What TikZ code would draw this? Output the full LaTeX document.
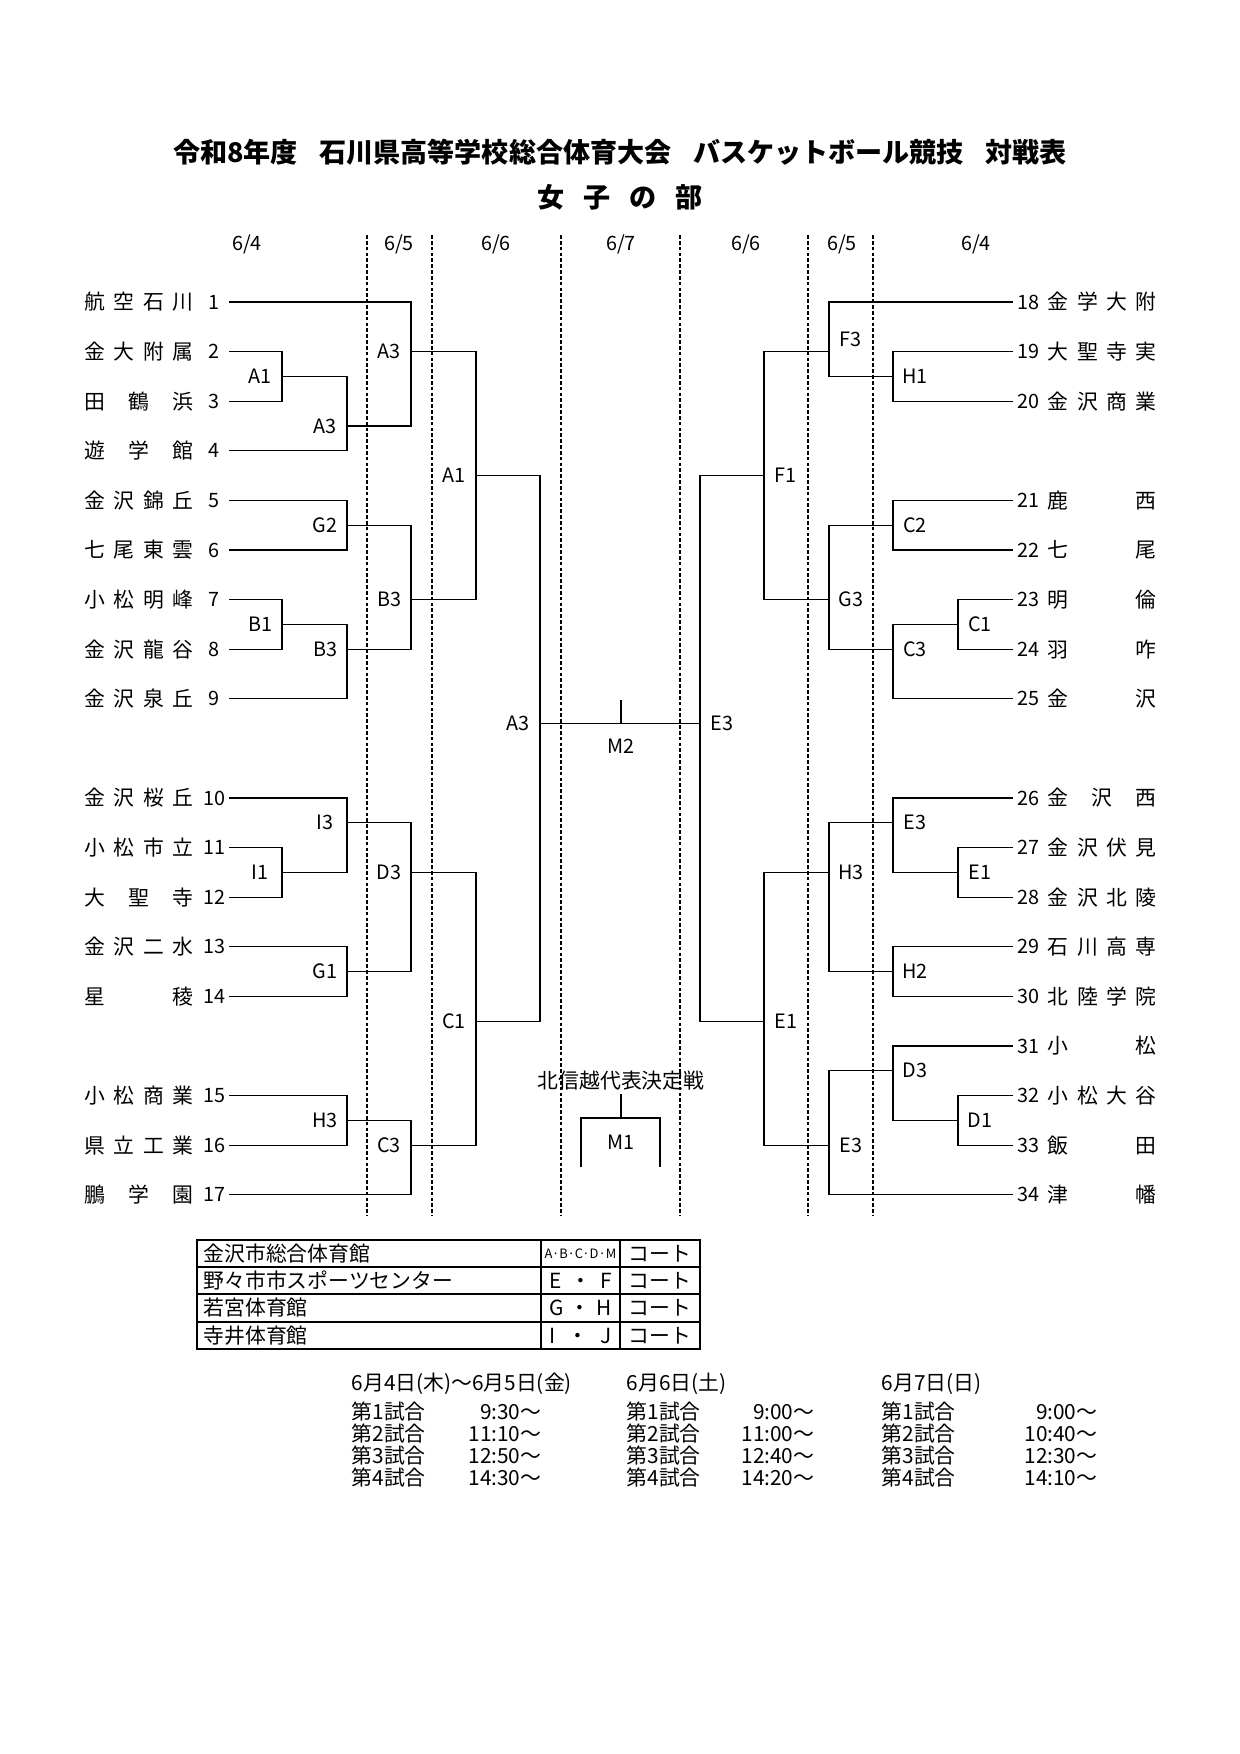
\documentclass[tikz,border=0pt]{standalone}
\usepackage{fontspec}
\setmainfont{Noto Sans CJK JP}
\usetikzlibrary{positioning}

% y of a bracket row (full-size pixel grid)
\newcommand{\rowy}[1]{302+49.6*#1}

\begin{document}
\begin{tikzpicture}[
  x=0.48pt, y=-0.48pt,
  line width=0.6pt,
  team/.style={inner sep=0pt, font=\fontsize{10}{12}\selectfont},
  num/.style={inner sep=0pt, minimum width=14pt, font=\fontsize{9.5}{11}\selectfont},
  lbl/.style={inner sep=0pt, font=\fontsize{9.5}{11}\selectfont},
  ml/.style={label={[lbl, xshift=-10.5pt]center:#1}},
  mr/.style={label={[lbl, xshift=10.5pt]center:#1}},
  day/.style={inner sep=0pt, font=\fontsize{9.5}{11}\selectfont},
  dayline/.style={line width=0.5pt, dash pattern=on 1.8pt off 1pt},
  cell/.style={inner sep=0pt, font=\fontsize{10}{12}\selectfont},
  sched/.style={inner sep=0pt, font=\fontsize{10}{12}\selectfont}
]
\useasboundingbox (0,0) rectangle (1240,1754);

% title
\node[font=\fontsize{13}{15}\selectfont\bfseries] (title) at (620,152)
  {令和8年度\hspace{0.8em}石川県高等学校総合体育大会\hspace{0.8em}バスケットボール競技\hspace{0.8em}対戦表};
\node[font=\fontsize{13}{15}\selectfont\bfseries] (part) at (620,197)
  {\makebox[79pt][s]{女 子 の 部}};

% day columns
\foreach \x/\d [count=\i] in {247/6\slash4, 399/6\slash5, 496/6\slash6, 621/6\slash7,
                              746/6\slash6, 842/6\slash5, 976/6\slash4}
  \node[day] (day\i) at (\x,244) {\d};
\foreach \x in {367,432,561,680,808,873}
  \draw[dayline] (\x,235) -- (\x,1216);

% teams, left
\foreach \n/\sl/\nm in {1/0/航 空 石 川, 2/1/金 大 附 属, 3/2/田 鶴 浜, 4/3/遊 学 館,
    5/4/金 沢 錦 丘, 6/5/七 尾 東 雲, 7/6/小 松 明 峰, 8/7/金 沢 龍 谷, 9/8/金 沢 泉 丘,
    10/10/金 沢 桜 丘, 11/11/小 松 市 立, 12/12/大 聖 寺, 13/13/金 沢 二 水, 14/14/星 稜,
    15/16/小 松 商 業, 16/17/県 立 工 業, 17/18/鵬 学 園}
{
  \node[team, anchor=west] (n\n) at (84,{\rowy{\sl}}) {\makebox[52.3pt][s]{\nm}};
  \node[num] (k\n) at (214,{\rowy{\sl}}) {\n};
}
% teams, right
\foreach \n/\sl/\nm in {18/0/金 学 大 附, 19/1/大 聖 寺 実, 20/2/金 沢 商 業,
    21/4/鹿 西, 22/5/七 尾, 23/6/明 倫, 24/7/羽 咋, 25/8/金 沢,
    26/10/金 沢 西, 27/11/金 沢 伏 見, 28/12/金 沢 北 陵, 29/13/石 川 高 専, 30/14/北 陸 学 院,
    31/15/小 松, 32/16/小 松 大 谷, 33/17/飯 田, 34/18/津 幡}
{
  \node[team, anchor=west] (n\n) at (1047,{\rowy{\sl}}) {\makebox[52.3pt][s]{\nm}};
  \node[num] (k\n) at (1028,{\rowy{\sl}}) {\n};
}

% matches, left half
\coordinate[ml=A1] (lA1)  at (282,{\rowy{1.5}});
\coordinate[ml=A3] (lA3b) at (347,{\rowy{2.5}});
\coordinate[ml=A3] (lA3a) at (411,{\rowy{1}});
\coordinate[ml=G2] (lG2)  at (347,{\rowy{4.5}});
\coordinate[ml=B1] (lB1)  at (282,{\rowy{6.5}});
\coordinate[ml=B3] (lB3b) at (347,{\rowy{7}});
\coordinate[ml=B3] (lB3a) at (411,{\rowy{6}});
\coordinate[ml=A1] (lA1s) at (476,{\rowy{3.5}});
\coordinate[ml=I1] (lI1)  at (282,{\rowy{11.5}});
\coordinate[ml=I3] (lI3)  at (347,{\rowy{10.5}});
\coordinate[ml=G1] (lG1)  at (347,{\rowy{13.5}});
\coordinate[ml=D3] (lD3)  at (411,{\rowy{11.5}});
\coordinate[ml=H3] (lH3)  at (347,{\rowy{16.5}});
\coordinate[ml=C3] (lC3)  at (411,{\rowy{17}});
\coordinate[ml=C1] (lC1)  at (476,{\rowy{14.5}});
\coordinate[ml=A3] (lA3f) at (540,{\rowy{8.5}});

% matches, right half
\coordinate[mr=H1] (rH1)  at (893,{\rowy{1.5}});
\coordinate[label={[lbl, xshift=10.5pt, yshift=5.8pt]center:F3}] (rF3) at (829,{\rowy{1}});
\coordinate[mr=C2] (rC2)  at (893,{\rowy{4.5}});
\coordinate[mr=C1] (rC1)  at (958,{\rowy{6.5}});
\coordinate[mr=C3] (rC3)  at (893,{\rowy{7}});
\coordinate[mr=G3] (rG3)  at (829,{\rowy{6}});
\coordinate[mr=F1] (rF1)  at (764,{\rowy{3.5}});
\coordinate[mr=E1] (rE1)  at (958,{\rowy{11.5}});
\coordinate[mr=E3] (rE3)  at (893,{\rowy{10.5}});
\coordinate[mr=H2] (rH2)  at (893,{\rowy{13.5}});
\coordinate[mr=H3] (rH3)  at (829,{\rowy{11.5}});
\coordinate[mr=D1] (rD1)  at (958,{\rowy{16.5}});
\coordinate[mr=D3] (rD3)  at (893,{\rowy{15.5}});
\coordinate[mr=E3] (rE3s) at (829,{\rowy{17}});
\coordinate[mr=E1] (rE1s) at (764,{\rowy{14.5}});
\coordinate[mr=E3] (rE3f) at (700,{\rowy{8.5}});

% bracket lines
\foreach \a/\b in {k1.east/lA3a, k2.east/lA1, k3.east/lA1, lA1/lA3b, k4.east/lA3b,
    lA3b/lA3a, k5.east/lG2, k6.east/lG2, k7.east/lB1, k8.east/lB1, lB1/lB3b,
    k9.east/lB3b, lG2/lB3a, lB3b/lB3a, lA3a/lA1s, lB3a/lA1s,
    k10.east/lI3, k11.east/lI1, k12.east/lI1, lI1/lI3, k13.east/lG1, k14.east/lG1,
    lI3/lD3, lG1/lD3, k15.east/lH3, k16.east/lH3, lH3/lC3, k17.east/lC3,
    lD3/lC1, lC3/lC1, lA1s/lA3f, lC1/lA3f}
  \draw (\a) -| (\b);
\foreach \a/\b in {k18.west/rF3, k19.west/rH1, k20.west/rH1, rH1/rF3,
    k21.west/rC2, k22.west/rC2, k23.west/rC1, k24.west/rC1, rC1/rC3, k25.west/rC3,
    rC2/rG3, rC3/rG3, rF3/rF1, rG3/rF1,
    k26.west/rE3, k27.west/rE1, k28.west/rE1, rE1/rE3, k29.west/rH2, k30.west/rH2,
    rE3/rH3, rH2/rH3, k31.west/rD3, k32.west/rD1, k33.west/rD1, rD1/rD3,
    rD3/rE3s, k34.west/rE3s, rH3/rE1s, rE3s/rE1s, rF1/rE3f, rE1s/rE3f}
  \draw (\a) -| (\b);

% final
\draw (lA3f) -- (rE3f);
\coordinate (m2) at (621,{\rowy{8.5}});
\draw (m2) -- ++(0,-24);
\node[lbl] (m2l) at (621,746) {M2};

% Hokushinetsu play-off
\node[lbl, font=\fontsize{10}{12}\selectfont] (hse) at (621,1081) {北信越代表決定戦};
\coordinate (m1) at (621,1118);
\draw (m1) -- ++(0,-24);
\draw (m1) ++(-40,49) |- ++(79,-49) -- ++(0,49);
\node[lbl] (m1l) at (621,1142) {M1};

% venues
\draw[line width=1pt] (197,1240) rectangle (700,1349);
\foreach \y in {1267,1294,1322}
  \draw (197,\y) -- (700,\y);
\draw (541,1240) -- (541,1349);
\draw (620,1240) -- (620,1349);
\foreach \y/\v/\c [count=\i] in {1253.5/金沢市総合体育館/{\fontsize{6.2}{7}\selectfont A·B·C·D·M},
    1280.5/野々市市スポーツセンター/{\makebox[30pt][s]{E ・ F}},
    1308/若宮体育館/{\makebox[30pt][s]{G ・ H}},
    1335.5/寺井体育館/{\makebox[30pt][s]{I ・ J}}}
{
  \node[cell, anchor=west] (hall\i) at (203,\y) {\v};
  \node[cell] (crt\i) at (580.5,\y) {\c};
  \node[cell] (cw\i) at (660,\y) {コート};
}

% timetable
\node[sched, anchor=west] (dA) at (351,1384) {6月4日(木)～6月5日(金)};
\node[sched, anchor=west] (dB) at (626,1384) {6月6日(土)};
\node[sched, anchor=west] (dC) at (881,1384) {6月7日(日)};
\foreach \i/\y/\ta/\tb/\tc in {1/1412/9:30/9:00/9:00, 2/1434/11:10/11:00/10:40,
    3/1456/12:50/12:40/12:30, 4/1478/14:30/14:20/14:10}
{
  \node[sched, anchor=west] (gA\i) at (351,\y) {第\i 試合};
  \node[sched, anchor=east] (tA\i) at (542,\y) {\ta～};
  \node[sched, anchor=west] (gB\i) at (626,\y) {第\i 試合};
  \node[sched, anchor=east] (tB\i) at (815,\y) {\tb～};
  \node[sched, anchor=west] (gC\i) at (881,\y) {第\i 試合};
  \node[sched, anchor=east] (tC\i) at (1098,\y) {\tc～};
}
\end{tikzpicture}
\end{document}
